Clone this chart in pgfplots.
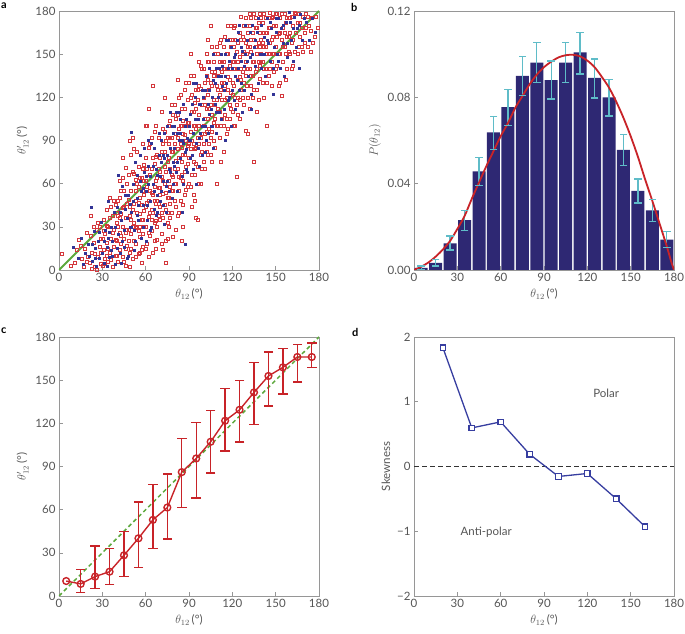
\documentclass[border=0pt]{standalone}
\usepackage{fontspec}
\setmainfont{Lato}
\usepackage{pgfplots}
\pgfplotsset{compat=1.18}
\definecolor{scred}{RGB}{212,55,60}
\definecolor{scblue}{RGB}{50,52,150}
\definecolor{lgreen}{RGB}{92,168,60}
\definecolor{navy}{RGB}{46,40,115}
\definecolor{ecyan}{RGB}{95,188,200}
\definecolor{cred}{RGB}{200,35,40}
\definecolor{dblue}{RGB}{55,62,160}
\definecolor{framegray}{RGB}{150,150,150}
\definecolor{txtgray}{RGB}{85,85,85}
\pgfplotsset{
 panel/.style={
  scale only axis, width=260pt, height=259pt,
  axis line style={draw=framegray, line width=0.6pt},
  tick align=inside, tick pos=left,
  major tick length=4pt,
  tick style={draw=framegray, line width=0.6pt},
  ticklabel style={font=\fontsize{11.5}{13}\selectfont, text=txtgray},
  label style={font=\fontsize{11.5}{13}\selectfont, text=txtgray},
  /pgf/number format/assume math mode=true,
 }
}
\begin{document}
\begin{tikzpicture}
\useasboundingbox (0pt,0pt) rectangle (685pt,634pt);
\node[anchor=north west, inner sep=0pt, font=\bfseries\fontsize{11}{13}\selectfont] at (1pt,631pt) {a};
\node[anchor=north west, inner sep=0pt, font=\bfseries\fontsize{11}{13}\selectfont] at (351pt,631pt) {b};
\node[anchor=north west, inner sep=0pt, font=\bfseries\fontsize{11}{13}\selectfont] at (1pt,306pt) {c};
\node[anchor=north west, inner sep=0pt, font=\bfseries\fontsize{11}{13}\selectfont] at (352pt,306pt) {d};
% ---------------- panel a
\begin{axis}[panel, at={(59pt,364pt)}, anchor=south west,
  xmin=0, xmax=180, ymin=0, ymax=180,
  xtick={0,30,...,180}, ytick={0,30,...,180},
  xlabel={$\theta_{12}$\,(°)}, ylabel={$\theta'_{12}$\,(°)}]
\addplot[only marks, mark=square, mark size=1.5pt, mark options={draw=scred, line width=0.55pt, fill=none}] coordinates {
(2,11)(8,3)
(12,14)(14,21)(16,8)(17,2)(19,26)(18,15)
(21,5)(22,38)(23,12)(24,19)(25,2)(26,28)(27,9)(27,33)(28,16)(29,4)(29,22)(24,30)
(30,3)(31,14)(31,35)(32,8)(32,25)(33,19)(33,42)(34,6)(34,30)(35,12)(35,50)(36,22)(37,2)(37,38)(38,16)(38,28)(39,10)(39,45)
(40,20)(40,33)(41,6)(41,48)(42,26)(42,14)(43,39)(43,55)(44,9)(44,30)(45,22)(45,44)(46,3)(46,36)(47,17)(47,60)(48,28)(48,49)(49,12)(49,38)(46,71)(42,62)(49,90)(44,78)
(50,25)(50,55)(51,8)(51,42)(52,33)(52,67)(53,18)(53,48)(54,29)(54,82)(55,11)(55,58)(56,39)(56,23)(57,64)(57,45)(58,16)(58,35)(59,52)(59,73)(51,92)(53,63)(55,27)(57,5)(58,88)(56,50)(52,20)(59,41)
(60,30)(60,62)(61,18)(61,47)(62,85)(62,37)(63,55)(63,24)(64,70)(64,42)(65,128)(65,12)(66,58)(66,33)(67,79)(67,46)(68,21)(68,64)(69,38)(69,92)(60,78)(61,100)(62,9)(63,40)(64,27)(65,52)(66,96)(67,15)(68,48)(69,57)(70,35)(66,74)
(70,44)(70,68)(71,25)(71,82)(72,53)(72,36)(73,96)(73,60)(74,5)(74,42)(75,75)(75,50)(76,30)(76,88)(77,58)(77,104)(78,40)(78,66)(79,82)(79,23)(71,110)(72,14)(73,72)(74,90)(75,33)(76,62)(77,46)(78,115)(79,55)(70,57)(72,98)(74,20)(76,78)(78,92)
(80,70)(80,48)(81,95)(81,60)(82,108)(82,38)(83,78)(83,55)(84,122)(84,88)(85,66)(85,100)(86,45)(86,80)(87,112)(87,94)(88,72)(88,130)(89,58)(89,86)(80,115)(81,28)(82,84)(83,98)(84,64)(85,20)(86,104)(87,52)(88,90)(89,118)(81,76)(83,40)(85,85)(87,68)
(90,78)(90,102)(91,58)(91,120)(92,90)(92,66)(93,110)(93,135)(94,84)(94,48)(95,98)(95,125)(96,72)(96,35)(97,108)(97,88)(98,60)(98,142)(99,95)(99,115)(90,130)(91,84)(92,44)(93,100)(94,116)(95,74)(96,92)(97,128)(98,80)(99,70)(91,150)(95,36)
(100,88)(100,120)(101,105)(101,70)(102,135)(102,96)(103,80)(103,145)(104,112)(104,125)(105,92)(105,170)(106,75)(106,138)(107,102)(107,118)(108,85)(108,150)(109,128)(109,60)(100,140)(101,95)(102,112)(103,122)(104,98)(105,130)(106,108)(107,145)(108,115)(109,100)
(110,112)(110,135)(111,92)(111,158)(112,125)(112,100)(113,145)(113,118)(114,130)(114,82)(115,108)(115,162)(116,140)(116,120)(117,98)(117,150)(118,132)(118,115)(119,170)(119,140)(110,150)(111,122)(112,75)(113,138)(114,155)(115,128)(116,105)(117,134)(118,160)(119,123)
(120,130)(120,110)(121,155)(121,145)(122,120)(122,170)(123,65)(123,140)(124,132)(124,158)(125,105)(125,148)(126,125)(126,176)(127,138)(127,162)(128,115)(128,152)(129,145)(129,97)(120,160)(122,100)(124,120)(126,140)(128,170)(121,128)(125,134)(129,158)
(130,150)(130,128)(131,165)(131,140)(132,112)(132,155)(133,175)(133,135)(134,145)(134,120)(135,160)(135,75)(136,138)(136,168)(137,150)(137,125)(138,172)(138,158)(139,142)(139,133)(131,95)(133,152)(135,178)(137,110)(139,165)(132,170)
(140,160)(140,145)(141,172)(141,130)(142,155)(142,178)(143,140)(143,165)(144,150)(144,100)(145,175)(145,135)(146,158)(146,168)(147,145)(147,128)(148,162)(148,176)(149,150)(149,138)(142,120)(146,179)
(150,170)(150,155)(151,142)(151,178)(152,164)(152,128)(153,150)(153,175)(154,160)(154,121)(155,168)(155,145)(156,178)(156,155)(157,172)(158,162)(158,140)(159,175)(159,152)(157,132)
(160,165)(160,150)(161,176)(161,158)(162,142)(162,170)(163,179)(163,152)(164,165)(165,172)(166,155)(166,178)(167,162)(168,168)(169,152)(169,176)
(170,165)(171,178)(172,155)(173,170)(174,152)(175,175)(177,162)(179,168)
(11,5)(15,17)(20,9)(22,24)(25,11)(28,30)(26,0.5)(23,1)(19,6)(29,12)
(30,22)(31,27)(32,4)(33,31)(34,15)(35,36)(36,7)(37,26)(38,48)(39,21)(36,44)(33,10)
(40,40)(40,10)(41,30)(42,50)(43,18)(43,24)(44,43)(45,6)(45,55)(46,26)(46,15)(47,46)(48,20)(48,66)(49,44)(49,2)(41,38)(44,64)(47,28)(42,36)
(50,35)(50,15)(51,68)(51,30)(52,46)(52,84)(53,30)(53,9)(54,40)(54,60)(55,47)(55,72)(56,30)(56,64)(57,35)(57,14)(58,55)(58,25)(59,62)(59,30)(50,80)(53,55)(56,12)(58,70)
(60,44)(60,15)(61,58)(61,70)(62,48)(62,26)(63,66)(63,88)(64,35)(64,54)(65,40)(65,78)(66,20)(66,48)(67,62)(67,34)(68,80)(68,30)(69,46)(69,70)(60,100)(62,112)(64,92)(67,100)
(70,52)(70,78)(71,40)(71,65)(72,88)(72,62)(73,45)(73,82)(74,68)(74,54)(75,92)(75,40)(76,50)(76,100)(77,70)(77,36)(78,82)(78,55)(79,65)(79,108)(71,18)(73,120)(75,22)(77,92)
(80,60)(80,88)(81,105)(81,44)(82,70)(82,92)(83,65)(83,120)(84,48)(84,100)(85,75)(85,112)(86,95)(86,62)(87,80)(87,125)(88,100)(88,56)(89,74)(89,102)(82,132)(86,30)
(90,88)(90,60)(91,96)(91,135)(92,110)(92,122)(93,75)(93,88)(94,100)(94,66)(95,112)(95,85)(96,125)(96,118)(97,60)(97,100)(98,92)(98,126)(99,82)(99,140)(93,52)(97,145)
(100,100)(100,75)(101,130)(101,115)(102,82)(102,150)(103,105)(103,132)(104,88)(104,145)(105,115)(105,80)(106,128)(106,96)(107,135)(107,90)(108,105)(108,138)(109,118)(109,155)(103,160)(106,155)
(110,100)(110,125)(111,110)(111,145)(112,140)(112,160)(113,105)(113,130)(114,100)(114,145)(115,118)(115,140)(116,150)(116,95)(117,125)(117,170)(118,105)(118,142)(119,112)(119,155)
(120,145)(120,122)(121,100)(121,168)(122,140)(122,160)(123,115)(123,152)(124,145)(124,108)(125,118)(125,165)(126,132)(126,160)(127,150)(127,120)(128,130)(128,160)(129,135)(129,175)
(130,140)(130,170)(131,155)(131,120)(132,140)(132,178)(133,160)(133,128)(134,165)(134,135)(135,145)(135,125)(136,155)(136,175)(137,140)(137,168)(138,145)(138,118)(139,155)(139,178)
(140,150)(140,175)(141,158)(141,145)(142,165)(142,140)(143,175)(143,155)(144,165)(144,130)(145,150)(145,168)(146,140)(147,175)(148,150)(149,170)(147,160)
(150,140)(150,178)(151,162)(152,150)(153,165)(153,130)(154,178)(155,155)(156,165)(157,150)(158,175)(159,162)
(160,175)(161,140)(162,160)(164,178)(165,150)(167,172)(168,155)(170,158)(171,168)(172,176)(174,166)(176,158)(178,176)
};
\addplot[only marks, mark=square*, mark size=1pt, mark options={draw=scblue, fill=scblue, line width=0.2pt}] coordinates {
(10,16)(13,8)(15,22)(18,12)(17,4)
(21,10)(22,44)(23,6)(24,27)(25,15)(26,3)(27,20)(28,8)(29,33)(23,18)
(30,12)(31,5)(32,28)(33,16)(34,48)(35,9)(36,30)(37,20)(38,40)(39,4)(34,22)(36,14)
(40,44)(41,25)(42,12)(43,35)(44,58)(45,28)(46,42)(47,8)(48,52)(49,30)(41,66)(45,16)(47,36)(43,5)
(50,40)(51,60)(52,28)(53,75)(54,50)(55,35)(56,62)(57,22)(58,45)(59,68)(50,96)(52,14)(54,38)(56,80)(58,57)
(60,55)(61,35)(62,72)(63,48)(64,88)(65,60)(66,42)(67,70)(68,52)(69,80)(60,20)(62,60)(64,30)(66,85)(68,40)(63,65)
(70,65)(71,90)(72,45)(73,78)(74,58)(75,100)(76,70)(77,85)(78,50)(79,95)(71,55)(73,32)(75,62)(77,110)(79,75)(72,80)
(80,85)(81,68)(82,95)(83,110)(84,78)(85,90)(86,60)(87,100)(88,84)(89,92)(80,100)(82,75)(84,105)(86,88)(88,70)(85,40)(87,18)
(90,90)(91,108)(92,80)(93,95)(94,120)(95,88)(96,105)(97,72)(98,115)(99,100)(91,78)(93,130)(95,60)(97,92)(99,125)
(100,105)(101,125)(102,90)(103,115)(104,140)(105,100)(106,120)(107,85)(108,130)(109,110)(101,82)(104,108)(107,150)(109,95)
(110,120)(111,140)(112,105)(113,128)(114,112)(115,150)(116,130)(117,118)(118,145)(119,100)(112,135)(115,90)(117,160)
(120,140)(121,118)(122,150)(123,132)(124,165)(125,125)(126,155)(127,110)(128,142)(129,170)(122,135)(126,145)
(130,160)(131,135)(132,148)(133,122)(134,170)(135,155)(136,142)(137,165)(138,130)(139,150)(133,112)
(140,170)(141,150)(142,162)(143,135)(144,175)(145,158)(146,145)(147,168)(148,122)(149,155)
(150,165)(151,150)(152,175)(153,140)(154,168)(155,158)(156,135)(157,172)(158,148)(159,179)
(160,172)(161,160)(162,145)(163,176)(164,155)(165,168)(166,140)(167,178)(168,160)
(171,172)(173,160)(175,175)(177,165)
(20,18)(25,8)(28,26)(31,20)(33,3)(35,26)(37,10)(39,30)(40,15)(42,40)(44,20)(46,52)(48,10)(49,46)(50,30)(51,48)(53,20)(54,66)(55,45)(57,55)(58,30)(59,85)(60,65)(61,45)(62,90)(63,28)(65,72)(66,55)(67,38)(68,66)(69,95)(70,48)(71,75)(72,62)(73,95)(74,40)(75,80)(76,55)(77,68)(78,100)(79,60)(80,72)(81,110)(82,55)(83,90)(84,95)(85,65)(86,115)(87,82)(88,105)(89,68)(90,100)(91,90)(92,115)(93,70)(94,105)(95,130)(96,85)(97,115)(98,95)(99,80)(100,120)(101,100)(102,135)(103,95)(104,125)(105,112)(106,100)(107,132)(108,115)(109,140)(110,135)(111,110)(112,150)(113,142)(114,125)(115,135)(116,160)(117,140)(118,120)(119,155)(120,125)(121,148)(122,112)(123,160)(124,140)(125,170)(126,130)(127,152)(128,125)(129,150)(130,145)(132,165)(134,150)(136,160)(138,175)(140,140)(142,150)(144,160)(146,172)(148,140)(150,175)(152,145)(155,170)(158,158)(162,168)(166,170)(170,175)
};
\addplot[lgreen, line width=2pt] coordinates {(0,0)(180,180)};
\end{axis}
% ---------------- panel b
\begin{axis}[panel, at={(414pt,364pt)}, anchor=south west,
  xmin=0, xmax=180, ymin=0, ymax=0.12,
  xtick={0,30,...,180}, ytick={0,0.04,0.08,0.12},
  yticklabels={0.00,0.04,0.08,0.12},
  xlabel={$\theta_{12}$\,(°)}, ylabel={$P(\theta_{12})$}]
\addplot[ybar, bar width=9, fill=navy, draw=none] coordinates {
(5,0.0010)(15,0.0033)(25,0.0123)(35,0.0231)(45,0.0457)(55,0.0638)(65,0.0755)(75,0.0899)(85,0.0961)(95,0.0880)(105,0.0961)(115,0.1008)(125,0.0890)(135,0.0800)(145,0.0556)(155,0.0366)(165,0.0276)(175,0.0141)
};
\addplot[ecyan, line width=1.3pt, mark=-, mark size=3.8pt, mark options={solid, line width=1.3pt}, unbounded coords=jump] coordinates {
(5,0.0002)(5,0.0018)(5,nan)
(15,0.0018)(15,0.0048)(15,nan)
(25,0.0092)(25,0.0157)(25,nan)
(35,0.0183)(35,0.0276)(35,nan)
(45,0.0391)(45,0.0522)(45,nan)
(55,0.0559)(55,0.0711)(55,nan)
(65,0.0671)(65,0.0837)(65,nan)
(75,0.0807)(75,0.0989)(75,nan)
(85,0.0870)(85,0.1054)(85,nan)
(95,0.0792)(95,0.0969)(95,nan)
(105,0.0868)(105,0.1054)(105,nan)
(115,0.0908)(115,0.1100)(115,nan)
(125,0.0797)(125,0.0978)(125,nan)
(135,0.0714)(135,0.0883)(135,nan)
(145,0.0484)(145,0.0627)(145,nan)
(155,0.0311)(155,0.0422)(155,nan)
(165,0.0225)(165,0.0326)(165,nan)
(175,0.0104)(175,0.0179)
};
\addplot[cred, line width=1.8pt, smooth] coordinates {
(0,0)(5,0.0015)(10,0.0035)(15,0.0062)(20,0.0095)(25,0.0135)(30,0.019)(35,0.025)(40,0.033)(45,0.0405)(50,0.048)(55,0.055)(60,0.062)(65,0.068)(70,0.075)(75,0.0805)(80,0.086)(85,0.0905)(90,0.094)(95,0.0965)(100,0.0985)(105,0.0995)(110,0.0997)(115,0.099)(120,0.097)(125,0.094)(130,0.0895)(135,0.0845)(140,0.078)(145,0.0705)(150,0.062)(155,0.0525)(160,0.042)(165,0.032)(170,0.0215)(175,0.011)(178,0.004)(180,0)
};
\end{axis}
% ---------------- panel c
\begin{axis}[panel, at={(59pt,38pt)}, anchor=south west,
  xmin=0, xmax=180, ymin=0, ymax=180,
  xtick={0,30,...,180}, ytick={0,30,...,180},
  xlabel={$\theta_{12}$\,(°)}, ylabel={$\theta'_{12}$\,(°)}]
\addplot[lgreen, line width=1.5pt, dash pattern=on 4pt off 3pt] coordinates {(0,0)(180,180)};
\addplot[cred, line width=1.4pt, mark=-, mark size=4.8pt, mark options={solid, line width=1.4pt}, unbounded coords=jump] coordinates {
(15,2.3)(15,18.3)(15,nan)
(25,5.1)(25,34.8)(25,nan)
(35,8.1)(35,32.9)(35,nan)
(45,13.5)(45,44.8)(45,nan)
(55,19.9)(55,65.4)(55,nan)
(65,32.9)(65,77.5)(65,nan)
(75,39.7)(75,84.9)(75,nan)
(85,61.7)(85,109.3)(85,nan)
(95,68.0)(95,120.6)(95,nan)
(105,85.4)(105,129.0)(105,nan)
(115,100.9)(115,144.0)(115,nan)
(125,106.9)(125,149.6)(125,nan)
(135,119.2)(135,162.1)(135,nan)
(145,132.0)(145,169.6)(145,nan)
(155,140.3)(155,171.9)(155,nan)
(165,148.7)(165,174.7)(165,nan)
(175,158.9)(175,175.8)
};
\addplot[cred, line width=1.4pt, mark=o, mark size=3.4pt, mark options={solid, line width=1.4pt}] coordinates {
(5,10.4)(15,8.4)(25,13.5)(35,16.9)(45,28.3)(55,40.1)(65,52.9)(75,61.5)(85,86.1)(95,95.6)(105,107.2)(115,121.8)(125,129.4)(135,141.5)(145,152.9)(155,158.9)(165,166.1)(175,166.1)
};
\end{axis}
% ---------------- panel d
\begin{axis}[panel, at={(414pt,38pt)}, anchor=south west,
  xmin=0, xmax=180, ymin=-2, ymax=2,
  xtick={0,30,...,180}, ytick={-2,-1,0,1,2},
  yticklabels={−2,−1,0,1,2},
  xlabel={$\theta_{12}$\,(°)}, ylabel={Skewness}]
\addplot[black!80, line width=1pt, dash pattern=on 5pt off 3pt] coordinates {(0,0)(180,0)};
\addplot[dblue, line width=1.3pt, mark=square*, mark size=2.7pt, mark options={solid, fill=white, draw=dblue, line width=1.3pt}] coordinates {
(20,1.835)(40,0.596)(60,0.689)(80,0.19)(100,-0.154)(120,-0.108)(140,-0.499)(160,-0.93)
};
\node[font=\fontsize{11.5}{13}\selectfont, text=txtgray] at (axis cs:133,1.136) {Polar};
\node[font=\fontsize{11.5}{13}\selectfont, text=txtgray] at (axis cs:50,-1.02) {Anti-polar};
\end{axis}
\end{tikzpicture}
\end{document}
